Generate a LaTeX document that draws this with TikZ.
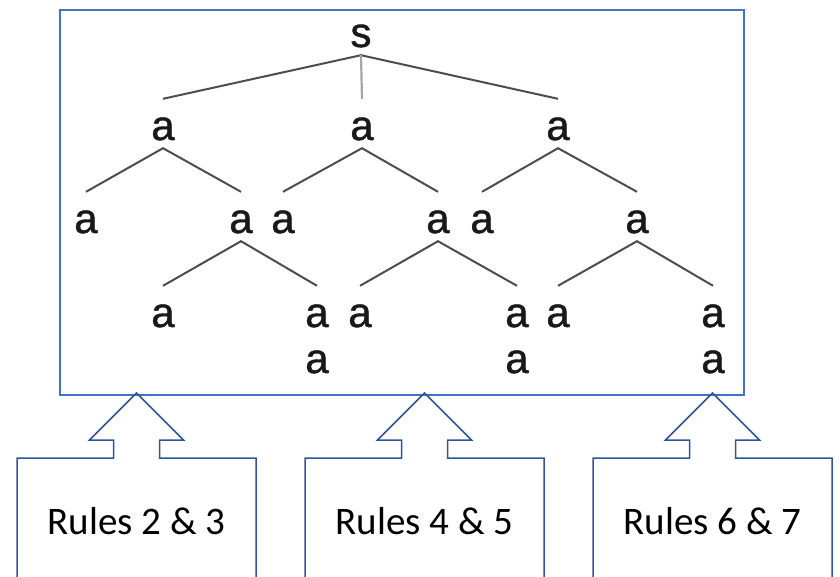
\documentclass[tikz,border=0pt]{standalone}
\usepackage{fontspec}
\setmainfont{Carlito}
\newfontfamily\treefont[FakeBold=1]{Liberation Sans}
\definecolor{frameblue}{HTML}{4472C4}
\definecolor{calloutblue}{HTML}{2F5597}
\definecolor{treegray}{HTML}{4D4D4D}
\definecolor{stemgray}{HTML}{A6A6A6}
\begin{document}
\begin{tikzpicture}[x=1pt,y=-1pt,
  lt/.style={font=\treefont\fontsize{42}{42}\selectfont, inner sep=0pt,
             text height=41pt, text depth=8pt, anchor=base, text=black!90},
  br/.style={draw=treegray, line width=2pt},
  stem/.style={draw=stemgray, line width=2.2pt},
  framebox/.style={draw=frameblue, line width=1.6pt},
  callout/.style={draw=calloutblue, line width=1.5pt, line join=miter},
  rulelbl/.style={font=\fontsize{39}{39}\selectfont, inner sep=0pt, anchor=base}]
\useasboundingbox (0,0) rectangle (840,576);
\clip (0,0) rectangle (840,576);

% frame
\draw[framebox] (60,10) rectangle (744,395);

% tree nodes
\node[lt] (s) at (361,47) {s};
\node[lt] (a1) at (163,140) {a};
\node[lt] (a2) at (362,140) {a};
\node[lt] (a3) at (558,140) {a};
\node[lt] (b1) at (86,233) {a};
\node[lt] (b2) at (241,233) {a};
\node[lt] (b3) at (283,233) {a};
\node[lt] (b4) at (438,233) {a};
\node[lt] (b5) at (482,233) {a};
\node[lt] (b6) at (637,233) {a};
\node[lt] (c1) at (163,327) {a};
\node[lt] (c2) at (317,327) {a};
\node[lt] (c3) at (360,327) {a};
\node[lt] (c4) at (517,327) {a};
\node[lt] (c5) at (558,327) {a};
\node[lt] (c6) at (713,327) {a};
\node[lt] (d1) at (317,373) {a};
\node[lt] (d2) at (517,373) {a};
\node[lt] (d3) at (713,373) {a};

% tree branches
\draw[br] (a1.north) -- (s.south) -- (a3.north);
\draw[stem] (s.south) -- (a2.north);
\draw[br] (b1.north) -- (a1.south) -- (b2.north);
\draw[br] (b3.north) -- (a2.south) -- (b4.north);
\draw[br] (b5.north) -- (a3.south) -- (b6.north);
\draw[br] (c1.north) -- (b2.south) -- (c2.north);
\draw[br] (c3.north) -- (b4.south) -- (c4.north);
\draw[br] (c5.north) -- (b6.south) -- (c6.north);

% callouts
\foreach \c/\n/\t in {136.5/r1/{Rules 2 \& 3}, 424.5/r2/{Rules 4 \& 5}, 712.5/r3/{Rules 6 \& 7}}{
  \draw[callout] (\c-119.5,590) -- (\c-119.5,458) -- (\c-23,458) -- (\c-23,440)
     -- (\c-47,440) -- (\c,393) -- (\c+47,440) -- (\c+23,440) -- (\c+23,458)
     -- (\c+119.5,458) -- (\c+119.5,590);
  \node[rulelbl] (\n) at (\c,534) {\t};
}
\end{tikzpicture}
\end{document}
